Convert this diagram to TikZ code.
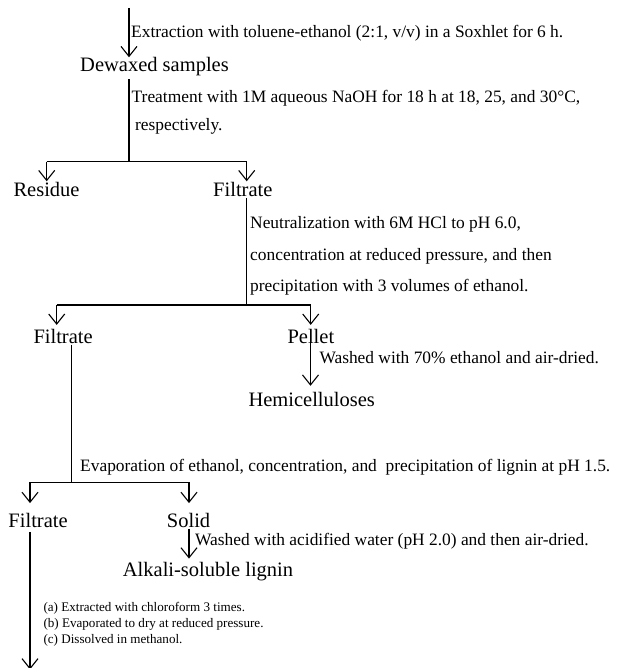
\documentclass[tikz,border=0pt]{standalone}
\usepackage{fontspec}
\setmainfont{Liberation Serif}
\usetikzlibrary{arrows.meta}
\tikzset{
  big/.style={inner sep=0pt, anchor=base west, font=\fontsize{20.5}{24}\selectfont},
  lbl/.style={inner sep=0pt, anchor=base west, font=\fontsize{17.4}{21}\selectfont},
  lst/.style={inner sep=0pt, anchor=base west, font=\fontsize{13.1}{16}\selectfont},
  ln/.style={line width=1.1pt},
  arr/.style={-{Straight Barb[length=10pt,width=16pt]}}
}
\begin{document}
\begin{tikzpicture}[x=1pt,y=-1pt]
\fill[white] (0,0) rectangle (617,668);
\useasboundingbox (0,0) rectangle (617,668);

% nodes
\node[big] (dewaxed) at (80,71.7) {Dewaxed samples};
\node[big] (residue) at (13.3,196.7) {Residue};
\node[big] (filt1) at (213,196.7) {Filtrate};
\node[big] (filt2) at (33.3,343.3) {Filtrate};
\node[big] (pellet) at (287.3,343.3) {Pellet};
\node[big] (hemi) at (248.3,406.7) {Hemicelluloses};
\node[big] (filt3) at (8.3,527.5) {Filtrate};
\node[big] (solid) at (166.7,527.5) {Solid};
\node[big] (alkali) at (122.7,576) {Alkali-soluble lignin};

% labels
\node[lbl] (ext) at (131,37.5) {Extraction with toluene-ethanol (2:1, v/v) in a Soxhlet for 6 h.};
\node[lbl] (treat) at (131.5,102.7) {Treatment with 1M aqueous NaOH for 18 h at 18, 25, and 30°C,};
\node[lbl] (resp) at (135,131) {respectively.};
\node[lbl] (neut) at (250,228.3) {Neutralization with 6M HCl to pH 6.0,};
\node[lbl] (conc) at (250,260) {concentration at reduced pressure, and then};
\node[lbl] (prec) at (250,291.7) {precipitation with 3 volumes of ethanol.};
\node[lbl] (wash1) at (319.3,363.3) {Washed with 70\% ethanol and air-dried.};
\node[lbl] (evap) at (80,471) {Evaporation of ethanol, concentration, and\ \ precipitation of lignin at pH 1.5.};
\node[lbl] (wash2) at (195,545) {Washed with acidified water (pH 2.0) and then air-dried.};
\node[lst] (la) at (43.3,611) {(a) Extracted with chloroform 3 times.};
\node[lst] (lb) at (43.3,627) {(b) Evaporated to dry at reduced pressure.};
\node[lst] (lc) at (43.3,643) {(c) Dissolved in methanol.};

% coordinates
\coordinate (src) at (129,8);
\coordinate (j1) at (129,161.7);
\coordinate (j1l) at (46.7,161.7);
\coordinate (j1r) at (246.7,161.7);
\coordinate (j2) at (246.7,305);
\coordinate (j2l) at (56.7,305);
\coordinate (j2r) at (310.7,305);
\coordinate (p1) at (310.5,0);
\coordinate (j3) at (71.7,482.3);
\coordinate (j3l) at (30,482.3);
\coordinate (j3r) at (189,482.3);
\coordinate (bot) at (30,669.5);

% connectors
\draw[ln,arr] (src) -- (src |- dewaxed.north);
\draw[ln] ([yshift=-3pt]dewaxed.south -| j1) -- (j1);
\draw[ln] (j1l) -- (j1r);
\draw[ln,arr] (j1l) -- ([yshift=1pt]residue.north -| j1l);
\draw[ln,arr] (j1r) -- ([yshift=1pt]filt1.north -| j1r);

\draw[ln] ([yshift=-1pt]filt1.south -| j2) -- (j2);
\draw[ln] (j2l) -- (j2r);
\draw[ln,arr] (j2l) -- ([yshift=4pt]filt2.north -| j2l);
\draw[ln,arr] (j2r) -- ([yshift=4pt]pellet.north -| j2r);

\draw[ln,arr] ([yshift=2pt]pellet.south -| p1) -- ([yshift=6.5pt]hemi.north -| p1);

\draw[ln] ([yshift=-1pt]filt2.south -| j3) -- (j3);
\draw[ln] (j3l) -- (j3r);
\draw[ln,arr] (j3l) -- ([yshift=10pt]filt3.north -| j3l);
\draw[ln,arr] (j3r) -- ([yshift=10pt]solid.north -| j3r);

\draw[ln,arr] ([yshift=-1pt]solid.south -| j3r) -- ([yshift=3pt]alkali.north -| j3r);
\draw[ln,arr] ([yshift=-4pt]filt3.south -| j3l) -- (bot);
\end{tikzpicture}
\end{document}
